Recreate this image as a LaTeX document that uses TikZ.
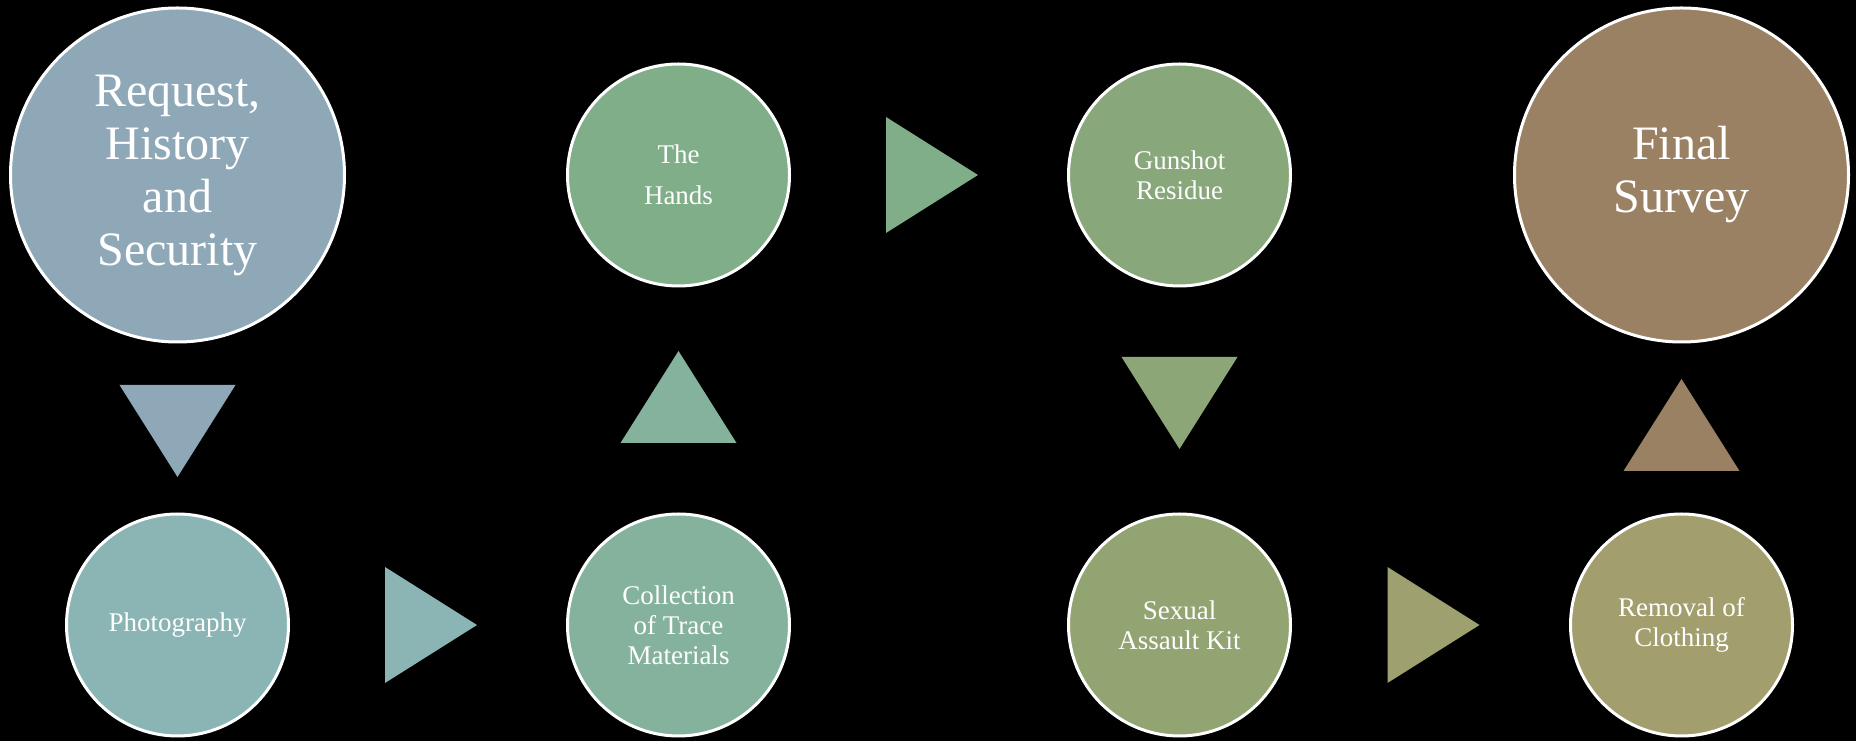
\documentclass[tikz,border=0pt]{standalone}
\usepackage{fontspec}
\setmainfont{Liberation Serif}
\usepackage{tikz}
\usetikzlibrary{positioning, calc}
\definecolor{reqfill}{RGB}{143,168,184}
\definecolor{photofill}{RGB}{138,181,180}
\definecolor{collfill}{RGB}{133,178,157}
\definecolor{handsfill}{RGB}{128,174,136}
\definecolor{gunfill}{RGB}{136,167,122}
\definecolor{sakfill}{RGB}{147,164,115}
\definecolor{remfill}{RGB}{162,158,110}
\definecolor{finalfill}{RGB}{155,129,100}
\tikzset{
  stage/.style    = {circle, draw=white, line width=3pt, text=white, align=center,
                     minimum size=222pt, inner sep=0pt,
                     font=\fontsize{27}{30}\selectfont},
  bigstage/.style = {stage, minimum size=334pt, font=\fontsize{48}{53}\selectfont},
  pics/flowtri/.style = {code={\fill[#1] (-43,-58) -- (-43,58) -- (49,0) -- cycle;}},
}

\begin{document}
\begin{tikzpicture}[x=1pt, y=1pt]
  \fill[black] (0,0) rectangle (1856,741);
  \node[bigstage, fill=reqfill] (req) at (177.5,566) {Request,\\History\\and\\Security};
  \node[stage, fill=photofill, below=169pt of req] (photo) {Photography};
  \node[stage, fill=collfill, right=276pt of photo] (coll) {Collection\\of Trace\\Materials};
  \node[stage, fill=handsfill, above=225pt of coll, font=\fontsize{27}{41}\selectfont] (hands) {The\\Hands};
  \node[stage, fill=gunfill, right=276pt of hands] (gun) {Gunshot\\Residue};
  \node[stage, fill=sakfill, below=225pt of gun] (sak) {Sexual\\Assault Kit};
  \node[stage, fill=remfill, right=277pt of sak] (rem) {Removal of\\Clothing};
  \node[bigstage, fill=finalfill, above=169pt of rem] (final) {Final\\Survey};
  % triangles between the stages
  \path ($(req.south)!.5!(photo.north)$) pic[rotate=-90] {flowtri=reqfill};
  \path ($(photo.east)!.5!(coll.west)$) pic {flowtri=photofill};
  \path ($(coll.north)!.5!(hands.south)$) pic[rotate=90] {flowtri=collfill};
  \path ($(hands.east)!.5!(gun.west)$) pic {flowtri=handsfill};
  \path ($(gun.south)!.5!(sak.north)$) pic[rotate=-90] {flowtri=gunfill!60!sakfill};
  \path ($(sak.east)!.5!(rem.west)$) pic {flowtri=sakfill!30!remfill};
  \path ($(rem.north)!.5!(final.south)$) pic[rotate=90] {flowtri=finalfill};
\end{tikzpicture}
\end{document}
